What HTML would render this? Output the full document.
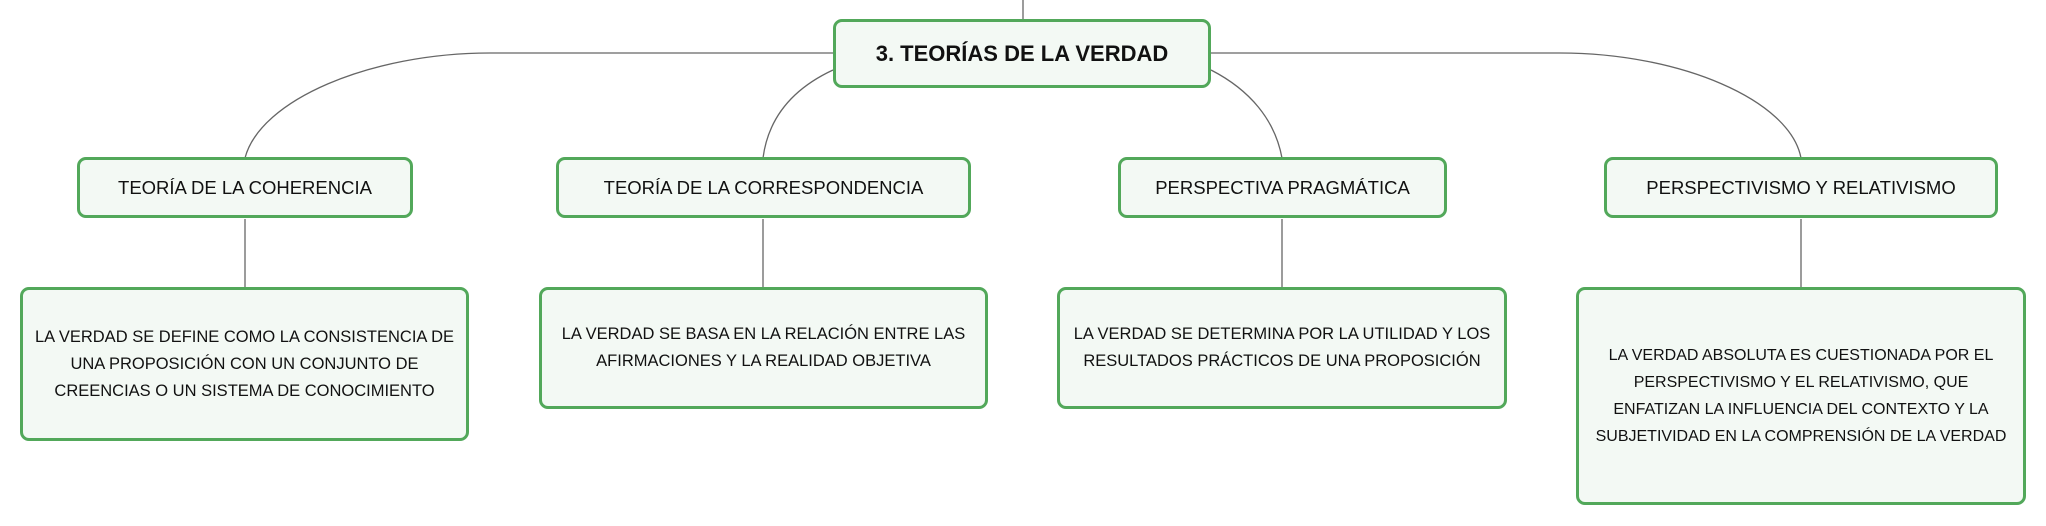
<!DOCTYPE html>
<html><head><meta charset="utf-8"><style>
body{margin:0;width:2046px;height:526px;background:#fff;position:relative;overflow:hidden;font-family:"Liberation Sans",sans-serif;}
.b{position:absolute;box-sizing:border-box;border:3px solid #52a85a;border-radius:9px;background:#f3f9f4;display:flex;align-items:center;justify-content:center;text-align:center;color:#111;}
.l1{font-size:18.5px;}
.l2{font-size:16.5px;line-height:27px;padding:0 4px;white-space:nowrap;}
svg{position:absolute;left:0;top:0;}
</style></head><body>
<svg width="2046" height="526" fill="none" stroke="#666" stroke-width="1.3">
<path d="M1023 0 V19"/>
<path d="M833 53 H490 C370 53 260 100 245 158"/>
<path d="M833 70 C790 90 768 120 763 158"/>
<path d="M1211 70 C1250 90 1275 120 1282 158"/>
<path d="M1211 53 H1560 C1680 53 1790 100 1801 158"/>
<path d="M245 219 V287"/>
<path d="M763 219 V287"/>
<path d="M1282 219 V287"/>
<path d="M1801 219 V287"/>
</svg>
<div class="b" style="left:833px;top:19px;width:378px;height:69px;font-weight:bold;font-size:22px;">3. TEORÍAS DE LA VERDAD</div>
<div class="b l1" style="left:77px;top:157px;width:336px;height:61px;">TEORÍA DE LA COHERENCIA</div>
<div class="b l1" style="left:556px;top:157px;width:415px;height:61px;">TEORÍA DE LA CORRESPONDENCIA</div>
<div class="b l1" style="left:1118px;top:157px;width:329px;height:61px;">PERSPECTIVA PRAGMÁTICA</div>
<div class="b l1" style="left:1604px;top:157px;width:394px;height:61px;">PERSPECTIVISMO Y RELATIVISMO</div>
<div class="b l2" style="left:20px;top:287px;width:449px;height:154px;">LA VERDAD SE DEFINE COMO LA CONSISTENCIA DE<br>UNA PROPOSICIÓN CON UN CONJUNTO DE<br>CREENCIAS O UN SISTEMA DE CONOCIMIENTO</div>
<div class="b l2" style="left:539px;top:287px;width:449px;height:122px;">LA VERDAD SE BASA EN LA RELACIÓN ENTRE LAS<br>AFIRMACIONES Y LA REALIDAD OBJETIVA</div>
<div class="b l2" style="left:1057px;top:287px;width:450px;height:122px;">LA VERDAD SE DETERMINA POR LA UTILIDAD Y LOS<br>RESULTADOS PRÁCTICOS DE UNA PROPOSICIÓN</div>
<div class="b l2" style="left:1576px;top:287px;width:450px;height:218px;font-size:16px;">LA VERDAD ABSOLUTA ES CUESTIONADA POR EL<br>PERSPECTIVISMO Y EL RELATIVISMO, QUE<br>ENFATIZAN LA INFLUENCIA DEL CONTEXTO Y LA<br>SUBJETIVIDAD EN LA COMPRENSIÓN DE LA VERDAD</div>
</body></html>
